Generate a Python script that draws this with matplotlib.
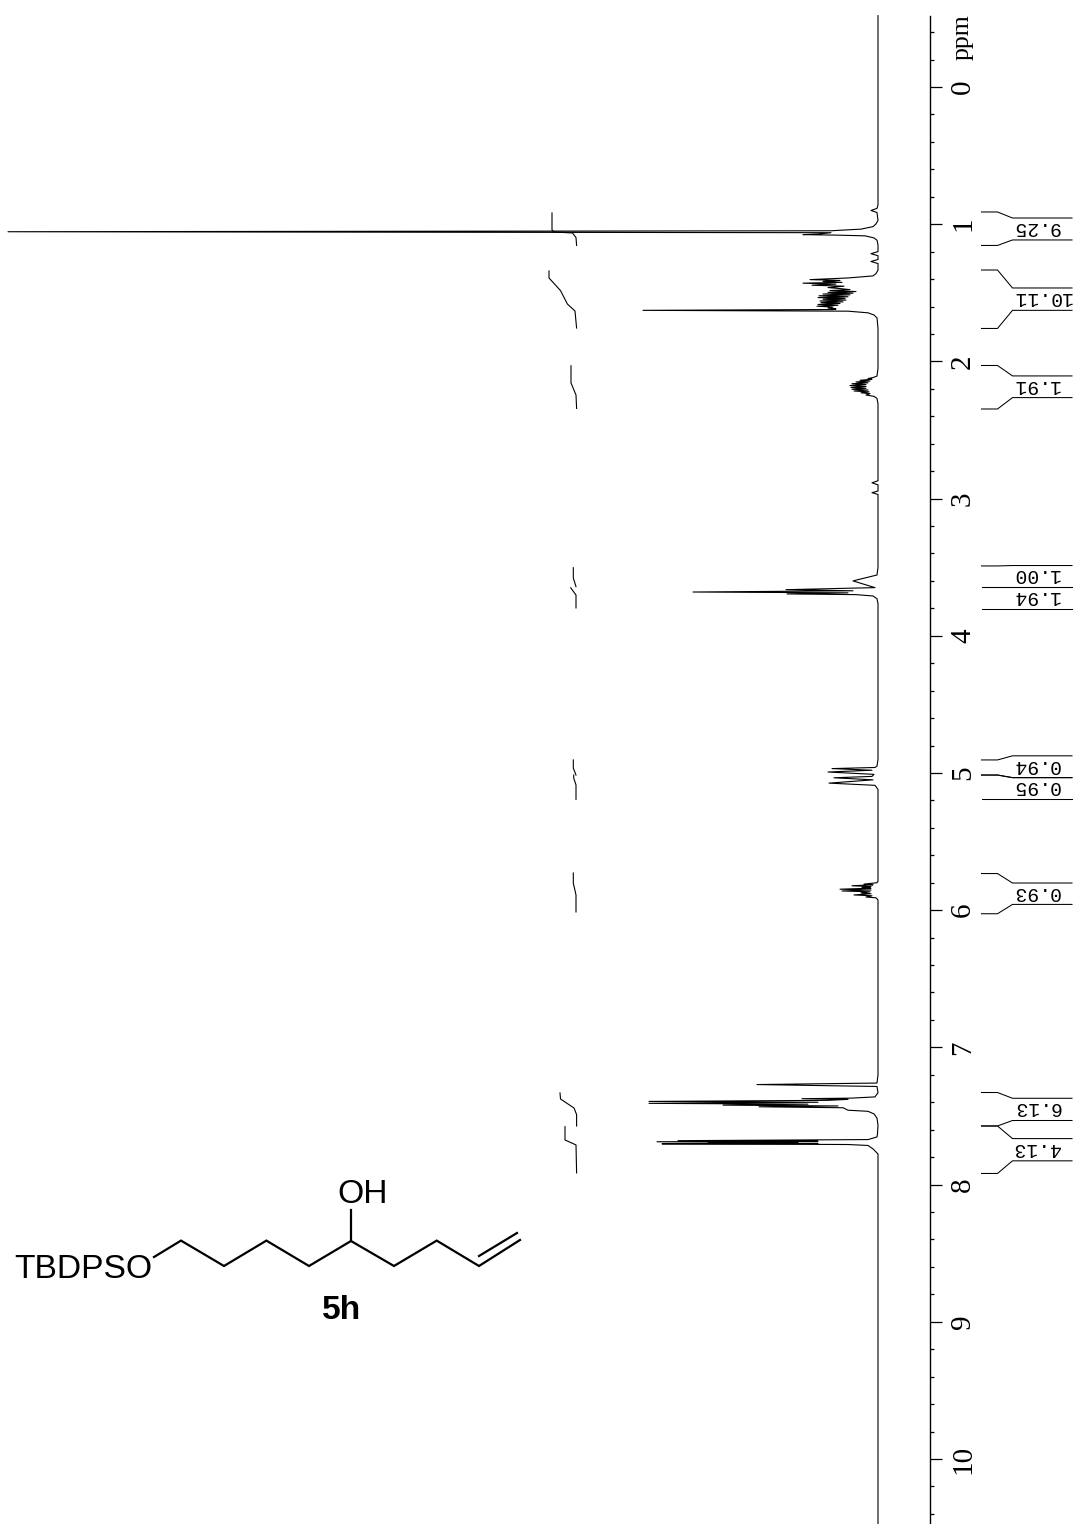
import matplotlib
matplotlib.use('Agg')
import matplotlib.pyplot as plt

# spectrum trace (ppm, intensity)
trace_ppm = [-0.52, 0.40, 0.86, 0.885, 0.90, 0.915, 0.973, 0.998, 1.018, 1.036, 1.048, 1.055, 1.062, 1.072, 1.076, 1.08, 1.085, 1.10, 1.117, 1.15,
             1.20, 1.215, 1.23, 1.257, 1.272, 1.287, 1.334, 1.36, 1.377, 1.392,
             1.404, 1.410, 1.417, 1.424, 1.430, 1.437, 1.445, 1.452, 1.462, 1.468, 1.477, 1.484, 1.491, 1.497, 1.503, 1.509, 1.515,
             1.522, 1.529, 1.535, 1.541, 1.547, 1.553, 1.560, 1.566, 1.572, 1.578, 1.585, 1.591, 1.598, 1.604, 1.611, 1.618, 1.622,
             1.628, 1.634, 1.646, 1.662, 1.683, 1.76, 2.05, 2.107, 2.118, 2.125, 2.130, 2.138, 2.143, 2.150, 2.156, 2.163, 2.169, 2.176,
             2.183, 2.190, 2.196, 2.203, 2.209, 2.216, 2.222, 2.229, 2.235, 2.245, 2.255, 2.27, 2.31, 2.87, 2.885, 2.90, 2.945, 2.957, 2.97,
             3.50, 3.557, 3.60, 3.649, 3.664, 3.672, 3.681, 3.687, 3.695, 3.70, 3.71, 3.73, 3.766,
             4.90, 4.95, 4.96, 4.968, 4.98, 4.993, 5.01, 5.025, 5.035, 5.05, 5.074, 5.09, 5.12,
             5.79, 5.80, 5.81, 5.815, 5.822, 5.828, 5.835, 5.84, 5.847, 5.853, 5.86, 5.866, 5.874, 5.88, 5.889, 5.895, 5.904, 5.91, 5.925,
             7.20, 7.26, 7.271, 7.285, 7.33, 7.361, 7.37, 7.374, 7.379, 7.386, 7.394, 7.40, 7.408, 7.414, 7.421, 7.427, 7.433, 7.44, 7.458,
             7.466, 7.485, 7.516, 7.566, 7.63, 7.653, 7.672, 7.68, 7.684, 7.688, 7.693, 7.698, 7.70, 7.703, 7.708, 7.715, 7.74, 7.777, 9.0, 10.53]
trace_int = [0, 0, 0, 1, 7, 1, 0, 2, 5, 17, 47, 870, 47, 60, 75, 40, 13, 4, 1, 0,
             0, 7, 0, 0, 7, 0, 0, 2, 5, 30,
             68, 38, 55, 36, 75, 42, 66, 34, 50, 40, 28, 48, 22, 50, 25, 55, 28,
             59, 30, 60, 33, 55, 32, 58, 35, 57, 38, 60, 40, 61, 45, 50, 42, 45,
             235, 30, 10, 4, 1, 0, 0, 1, 5, 10, 6, 18, 8, 22, 10, 26, 12, 28,
             12, 27, 12, 26, 10, 24, 9, 17, 8, 12, 4, 1, 0, 0, 6, 0, 0, 6, 0,
             0, 1, 25, 3, 92, 25, 185, 30, 91, 22, 5, 1, 0,
             0, 1, 3, 46, 6, 50, 4, 6, 44, 5, 49, 3, 0,
             0, 1, 14, 5, 26, 7, 16, 7, 38, 7, 36, 8, 17, 7, 24, 6, 12, 2, 0,
             0, 1, 121, 1, 0, 3, 27, 76, 30, 50, 229, 60, 229, 70, 155, 40, 119, 35, 30,
             10, 4, 1, 0, 0.5, 1, 10, 200, 60, 221, 80, 170, 60, 216, 30, 10, 5, 0, 0, 0]

# integral curves, one pair of lists per region
integral_ppm = [[0.918, 1.042, 1.057, 1.064, 1.098, 1.155],
                [1.341, 1.392, 1.484, 1.582, 1.633, 1.757],
                [2.032, 2.157, 2.245, 2.343],
                [3.504, 3.579, 3.642],
                [3.650, 3.703, 3.797],
                [4.905, 4.964, 5.015],
                [5.015, 5.037, 5.087, 5.192],
                [5.729, 5.802, 5.889, 6.013],
                [7.332, 7.376, 7.442, 7.490, 7.573],
                [7.578, 7.675, 7.711, 7.915]]
integral_int = [[326, 326, 324, 305.5, 302, 301.4],
                [329, 329, 317.5, 310.6, 303, 301.4],
                [307, 307, 302, 301.4],
                [304.7, 304.7, 302],
                [307.3, 302, 302],
                [304.7, 304.7, 302],
                [304.3, 304.3, 302, 302],
                [304.7, 304.7, 302, 302],
                [318, 317.5, 304, 301.4, 301.4],
                [313, 313, 302, 301.4]]

# integral brackets: ppm at the left end (start, stop), ppm at the label (start, stop), value
bracket_start = [0.911, 1.334, 2.030, 3.491, 3.647, 4.905, 5.015, 5.733, 7.329, 7.573]
bracket_stop = [1.155, 1.760, 2.347, 3.647, 3.803, 5.015, 5.192, 6.026, 7.573, 7.919]
label_start = [0.955, 1.465, 2.106, 3.488, 3.647, 4.875, 5.034, 5.802, 7.371, 7.665]
label_stop = [1.115, 1.628, 2.264, 3.647, 3.803, 5.034, 5.192, 5.958, 7.533, 7.827]
integral_labels = ['9.25', '10.11', '1.91', '1.00', '1.94', '0.94', '0.95', '0.93', '6.13', '4.13']

major_ticks = list(range(0, 11))
minor_ticks = [-0.4, -0.2, 0.2, 0.4, 0.6, 0.8, 1.2, 1.4, 1.6, 1.8, 2.2, 2.4, 2.6, 2.8, 3.2, 3.4, 3.6, 3.8,
               4.2, 4.4, 4.6, 4.8, 5.2, 5.4, 5.6, 5.8, 6.2, 6.4, 6.6, 6.8, 7.2, 7.4, 7.6, 7.8,
               8.2, 8.4, 8.6, 8.8, 9.2, 9.4, 9.6, 9.8, 10.2, 10.4]

# skeleton of the molecule, in picture pixels
chain_x = [154, 181, 224, 266.4, 309, 351, 394, 436.7, 479, 520]
chain_y = [1257, 1240.6, 1266, 1240.6, 1266, 1241, 1266, 1240.6, 1266, 1240]
double_x = [479, 517]
double_y = [1256, 1233]
oh_x = [351, 351]
oh_y = [1241, 1210]

mono = 'Liberation Mono'
serif = 'Liberation Serif'
sans = 'Liberation Sans'

fig = plt.figure(figsize=(10.74, 15.24), dpi=100)

# main axes cover the whole page: x is intensity (1 unit = 1 px), y is ppm
ax = fig.add_axes([0, 0, 1, 1])
ax.patch.set_alpha(0)
ax.set_xlim(878, -196)
ax.set_ylim(10.474, -0.634)
for side in ['left', 'top', 'bottom']:
    ax.spines[side].set_visible(False)
ax.spines['right'].set_position(('data', -51.5))
ax.spines['right'].set_bounds(10.474, -0.52)
ax.spines['right'].set_linewidth(1.0)
ax.xaxis.set_visible(False)
ax.yaxis.tick_right()
ax.set_yticks(major_ticks)
ax.set_yticks(minor_ticks, minor=True)
ax.tick_params(axis='y', which='major', direction='out', length=8.3, width=0.9, pad=6.5,
               labelrotation=90, labelsize=21)
ax.tick_params(axis='y', which='minor', direction='out', length=2.9, width=0.9)
for lab in ax.get_yticklabels():
    lab.set_family(serif)
    lab.set_va('center')

ax.plot(trace_int, trace_ppm, color='black', lw=0.8)
for ppm, val in zip(integral_ppm, integral_int):
    ax.plot(val, ppm, color='black', lw=0.8)

# brackets from the integral limits to the value labels
for i in range(len(integral_labels)):
    ax.plot([-103.5, -119.5, -134.5, -194],
            [bracket_start[i], bracket_start[i], label_start[i], label_start[i]], color='black', lw=0.75)
    ax.plot([-103.5, -119.5, -134.5, -194],
            [bracket_stop[i], bracket_stop[i], label_stop[i], label_stop[i]], color='black', lw=0.75)
    ax.text(-134.5, (label_start[i] + label_stop[i]) / 2 - 0.012, integral_labels[i], rotation=180,
            ha='left', va='center', family=mono, fontsize=14.2)

ax.text(-85, -0.36, 'ppm', rotation=90, ha='center', va='center', family=serif, fontsize=18.5)

# structure drawn on its own pixel axes
sk = fig.add_axes([0, 0, 1, 1])
sk.patch.set_alpha(0)
sk.set_xlim(0, 1074)
sk.set_ylim(1524, 0)
sk.axis('off')
sk.plot(chain_x, chain_y, color='black', lw=1.6, solid_joinstyle='miter')
sk.plot(double_x, double_y, color='black', lw=1.6)
sk.plot(oh_x, oh_y, color='black', lw=1.6)
sk.text(14, 1277.5, 'TBDPSO', family=sans, fontsize=24.2, ha='left', va='baseline')
sk.text(337, 1203, 'OH', family=sans, fontsize=24.2, ha='left', va='baseline')
sk.text(322, 1319, '5h', family=sans, fontsize=24.2, fontweight='bold', ha='left', va='baseline')

fig.savefig('out.png', dpi=100)
